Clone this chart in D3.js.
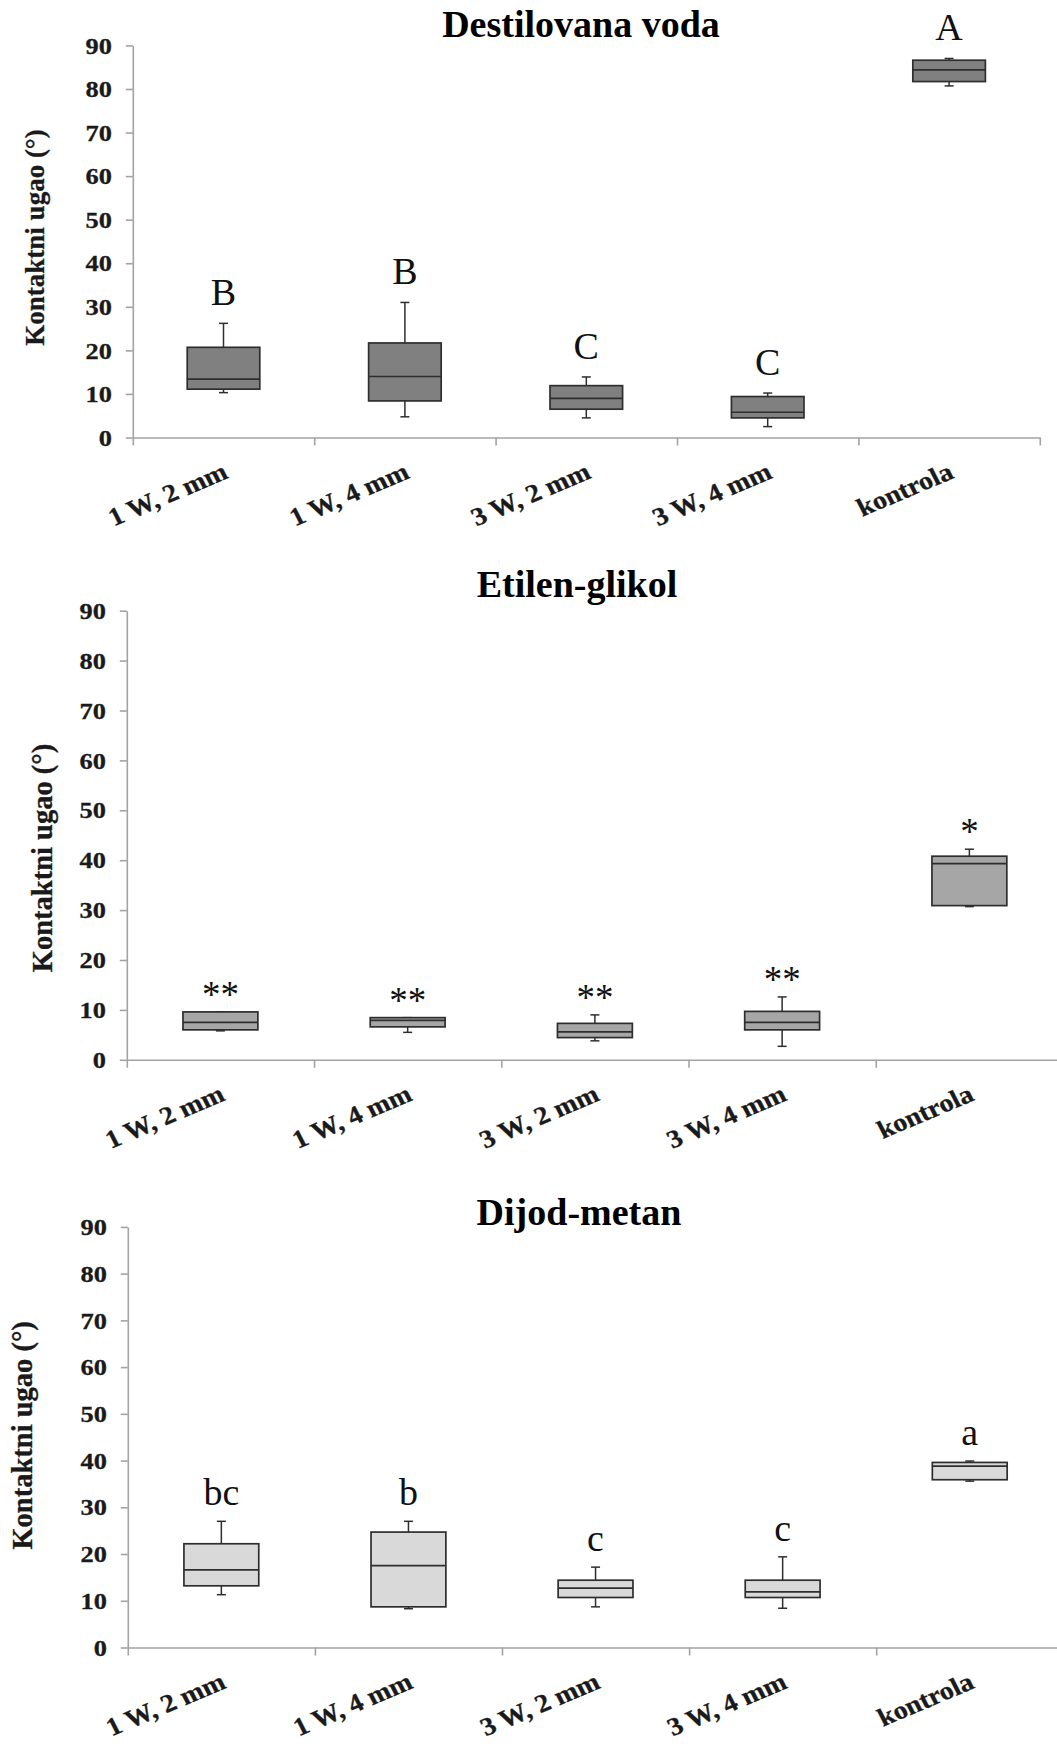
<!DOCTYPE html>
<html><head><meta charset="utf-8">
<script src="https://cdn.jsdelivr.net/npm/d3@7"></script>
<style>body{margin:0;background:#fff} svg{display:block}</style>
</head><body>
<svg id="chart" width="1057" height="1746"></svg>
<script>
// ---------- data ----------
const categories = ["1 W, 2 mm", "1 W, 4 mm", "3 W, 2 mm", "3 W, 4 mm", "kontrola"];
const yTicks = [0, 10, 20, 30, 40, 50, 60, 70, 80, 90];
const titles = ["Destilovana voda", "Etilen-glikol", "Dijod-metan"];
const yLabel = "Kontaktni ugao (°)";

// Destilovana voda
const vodaMin    = [10.3, 4.75, 4.5, 2.5, 80.7];
const vodaQ1     = [11.1, 8.4, 6.5, 4.5, 81.7];
const vodaMedian = [13.4, 14.0, 9.0, 5.8, 84.4];
const vodaQ3     = [20.7, 21.7, 11.9, 9.4, 86.6];
const vodaMax    = [26.2, 31.0, 13.9, 10.2, 87.0];
const vodaLetters = ["B", "B", "C", "C", "A"];

// Etilen-glikol
const glikolMin    = [5.8, 5.5, 3.8, 2.7, 30.7];
const glikolQ1     = [6.0, 6.6, 4.45, 6.0, 30.9];
const glikolMedian = [7.5, 7.9, 5.6, 7.5, 39.3];
const glikolQ3     = [9.6, 8.45, 7.3, 9.7, 40.8];
const glikolMax    = [9.6, 8.45, 9.0, 12.6, 42.2];
const glikolLetters = ["**", "**", "**", "**", "*"];

// Dijod-metan
const metanMin    = [11.3, 8.3, 8.7, 8.4, 35.6];
const metanQ1     = [13.2, 8.7, 10.7, 10.7, 35.9];
const metanMedian = [16.6, 17.5, 12.7, 11.9, 38.8];
const metanQ3     = [22.2, 24.7, 14.4, 14.4, 39.6];
const metanMax    = [27.0, 27.0, 17.2, 19.4, 39.9];
const metanLetters = ["bc", "b", "c", "c", "a"];

function rows(mn, q1, md, q3, mx, lab) {
  return categories.map((c, i) => ({cat: c, min: mn[i], q1: q1[i], med: md[i], q3: q3[i], max: mx[i], label: lab[i]}));
}

// ---------- layout ----------
const panels = [
  {data: rows(vodaMin, vodaQ1, vodaMedian, vodaQ3, vodaMax, vodaLetters),
   left: 132.8, right: 1039.8, top: 45.4, bottom: 437.5, titleX: 581, titleY: 37.3,
   ylabX: 34.7, ylabY: 237.5, ylabSize: 27, fill: "#808080", labOff: 18, labSize: 38},
  {data: rows(glikolMin, glikolQ1, glikolMedian, glikolQ3, glikolMax, glikolLetters),
   left: 126.8, right: 1063, top: 610.7, bottom: 1059.8, titleX: 577, titleY: 597,
   ylabX: 42.3, ylabY: 858, ylabSize: 28.5, fill: "#a6a6a6", labOff: 5, labSize: 37},
  {data: rows(metanMin, metanQ1, metanMedian, metanQ3, metanMax, metanLetters),
   left: 127.8, right: 1063.3, top: 1226.9, bottom: 1647.5, titleX: 579, titleY: 1224.5,
   ylabX: 22.8, ylabY: 1435.4, ylabSize: 28.5, fill: "#d9d9d9", labOff: 16, labSize: 38}
];

const svg = d3.select("#chart");
const serif = "'Liberation Serif','Times New Roman',serif";
const axisColor = "#a3a3a3";
const boxStroke = "#2e2e2e";
const textColor = "#1a1a1a";
const stretch = 1.1;

panels.forEach((p, pi) => {
  const g = svg.append("g");
  const y = d3.scaleLinear().domain([0, 90]).range([p.bottom, p.top]);
  const xb = d3.scaleLinear().domain([0, categories.length]).range([p.left, p.right]);
  const band = d3.scaleBand().domain(categories).range([p.left, p.right]).padding(0);
  const bw = band.bandwidth() * 0.4;
  const cx = c => band(c) + band.bandwidth() / 2;

  // Title
  g.append("text").attr("x", p.titleX).attr("y", p.titleY)
    .attr("text-anchor", "middle").attr("font-family", serif)
    .attr("font-weight", "bold").attr("font-size", 38).attr("fill", "#000")
    .text(titles[pi]);

  // Y axis
  const ya = g.append("g").attr("transform", `translate(${p.left},0)`)
    .call(d3.axisLeft(y).tickValues(yTicks).tickSize(7).tickSizeOuter(0).tickPadding(12));
  ya.select(".domain").attr("stroke", axisColor).attr("stroke-width", 1.6);
  ya.selectAll(".tick line").attr("stroke", axisColor).attr("stroke-width", 1.6);
  ya.selectAll(".tick text")
    .attr("font-family", serif).attr("font-weight", "bold").attr("font-size", 24)
    .attr("fill", textColor).attr("stroke", textColor).attr("stroke-width", 0.3)
    .attr("transform", `scale(${stretch},1)`);

  // X axis (ticks at category boundaries)
  const xa = g.append("g").attr("transform", `translate(0,${p.bottom})`)
    .call(d3.axisBottom(xb).tickValues(d3.range(categories.length + 1)).tickSize(8).tickSizeOuter(0).tickFormat(""));
  xa.select(".domain").attr("stroke", axisColor).attr("stroke-width", 1.6);
  xa.selectAll(".tick line").attr("stroke", axisColor).attr("stroke-width", 1.6);

  // X labels
  g.selectAll(".xlab").data(categories).enter().append("text")
    .attr("class", "xlab")
    .attr("transform", d => `translate(${cx(d) + 6},${p.bottom + 40}) scale(${stretch},1) rotate(-25)`)
    .attr("text-anchor", "end").attr("font-family", serif).attr("font-weight", "bold")
    .attr("font-size", 25.5).attr("fill", textColor)
    .attr("stroke", textColor).attr("stroke-width", 0.3).text(d => d);

  // Y label
  g.append("text")
    .attr("transform", `translate(${p.ylabX + p.ylabSize * 0.33},${p.ylabY}) rotate(-90)`)
    .attr("text-anchor", "middle").attr("font-family", serif).attr("font-weight", "bold")
    .attr("font-size", p.ylabSize).attr("fill", textColor)
    .attr("stroke", textColor).attr("stroke-width", 0.3).text(yLabel);

  // Boxes
  const bx = g.selectAll(".box").data(p.data).enter().append("g").attr("class", "box");
  bx.append("line").attr("x1", d => cx(d.cat)).attr("x2", d => cx(d.cat))
    .attr("y1", d => y(d.max)).attr("y2", d => y(d.min))
    .attr("stroke", boxStroke).attr("stroke-width", 1.5);
  ["max", "min"].forEach(k => {
    bx.append("line").attr("x1", d => cx(d.cat) - 4.5).attr("x2", d => cx(d.cat) + 4.5)
      .attr("y1", d => y(d[k])).attr("y2", d => y(d[k]))
      .attr("stroke", boxStroke).attr("stroke-width", 1.5);
  });
  bx.append("rect").attr("x", d => cx(d.cat) - bw / 2).attr("width", bw)
    .attr("y", d => y(d.q3)).attr("height", d => y(d.q1) - y(d.q3))
    .attr("fill", p.fill).attr("stroke", boxStroke).attr("stroke-width", 1.7);
  bx.append("line").attr("x1", d => cx(d.cat) - bw / 2).attr("x2", d => cx(d.cat) + bw / 2)
    .attr("y1", d => y(d.med)).attr("y2", d => y(d.med))
    .attr("stroke", boxStroke).attr("stroke-width", 1.7);
  bx.append("text").attr("x", d => cx(d.cat)).attr("y", d => y(d.max) - p.labOff)
    .attr("text-anchor", "middle").attr("font-family", serif)
    .attr("font-size", p.labSize).attr("fill", "#111").text(d => d.label);
});
</script>
</body></html>
